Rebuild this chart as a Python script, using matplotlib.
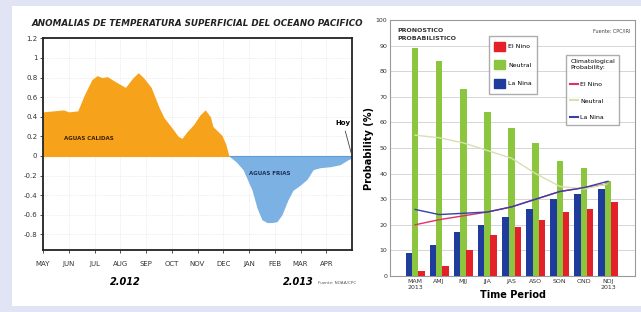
import numpy as np
import matplotlib
matplotlib.use("Agg")
from matplotlib import pyplot as plt
from matplotlib.patches import Rectangle, Patch
from matplotlib.lines import Line2D

plt.rcParams['font.family'] = ['Liberation Sans Narrow', 'DejaVu Sans']

# left chart: sea surface temperature anomaly (months since 1 May 2012)
months = [0.0, 0.4, 0.8, 1.0, 1.35, 1.6, 1.9, 2.1, 2.3, 2.5, 2.8, 3.2, 3.5, 3.7,
          3.9, 4.2, 4.5, 4.7, 5.0, 5.25, 5.4, 5.6, 5.85, 6.1, 6.3, 6.5, 6.6, 6.95,
          7.1, 7.22, 7.5, 7.77, 8.12, 8.31, 8.5, 8.7, 8.9, 9.09, 9.28, 9.51, 9.71,
          9.98, 10.25, 10.49, 10.76, 11.15, 11.53, 11.84, 12.0]
anomaly = [0.45, 0.46, 0.47, 0.45, 0.46, 0.62, 0.78, 0.82, 0.80, 0.81, 0.76, 0.70,
           0.80, 0.85, 0.80, 0.70, 0.50, 0.39, 0.29, 0.20, 0.18, 0.25, 0.32, 0.42,
           0.47, 0.40, 0.30, 0.21, 0.12, 0.0, -0.06, -0.14, -0.35, -0.53, -0.65,
           -0.68, -0.68, -0.67, -0.60, -0.45, -0.35, -0.30, -0.24, -0.14, -0.12,
           -0.11, -0.09, -0.04, -0.02]
month_labels = ["MAY", "JUN", "JUL", "AUG", "SEP", "OCT", "NOV", "DEC",
                "JAN", "FEB", "MAR", "APR"]

# right chart: ENSO probabilistic forecast
seasons = ["MAM\n2013", "AMJ", "MJJ", "JJA", "JAS", "ASO", "SON", "OND", "NDJ\n2013"]
la_nina = [9, 12, 17, 20, 23, 26, 30, 32, 34]
neutral = [89, 84, 73, 64, 58, 52, 45, 42, 37]
el_nino = [2, 4, 10, 16, 19, 22, 25, 26, 29]
clim_el_nino = [20, 22, 23.5, 25, 27, 30, 33, 34.5, 36]
clim_neutral = [55, 54, 52, 49, 46, 40, 35, 34, 36]
clim_la_nina = [26, 24, 24.5, 25, 27, 30, 33, 34.5, 37]

W, H = 641, 312
fig = plt.figure(figsize=(W / 100, H / 100), dpi=100, facecolor="#e1e4f4")
fig.patches.append(Rectangle((12 / W, 6 / H), 1 - 12 / W, 300 / H,
                             transform=fig.transFigure, facecolor="white",
                             edgecolor="none", zorder=-5))

# ---------------- left chart ----------------
ax = fig.add_axes([43 / W, (H - 250) / H, 309 / W, 211.6 / H])
x = np.array(months)
y = np.array(anomaly)
ax.fill_between(x, y, 0, where=y >= 0, interpolate=True, color="#f7a21b", lw=0)
ax.fill_between(x, y, 0, where=y <= 0, interpolate=True, color="#7cb1e3", lw=0)
ax.hlines(0, 0, 7.22, color="#f7a21b", lw=0.8)
ax.hlines(0, 7.22, 12, color="#5f9bd6", lw=0.8)
ax.set_xlim(0, 12)
ax.set_ylim(-0.96, 1.2)
ax.set_xticks(range(12))
ax.set_xticklabels(month_labels)
yt = [1.2, 1, 0.8, 0.6, 0.4, 0.2, 0, -0.2, -0.4, -0.6, -0.8]
ax.set_yticks(yt)
ax.set_yticklabels(["1.2", "1", "0.8", "0.6", "0.4", "0.2", "0",
                    "-0.2", "-0.4", "-0.6", "-0.8"])
ax.tick_params(labelsize=5, length=2, width=0.6, pad=2, colors="#333333")
ax.tick_params(axis="x", pad=6)
ax.grid(True, color="#dddddd", lw=0.5, ls=":")
ax.set_axisbelow(True)
for s in ax.spines.values():
    s.set_linewidth(1.3)
    s.set_color("#222222")

ax.text(1.8, 0.18, "AGUAS CALIDAS", fontsize=4, fontweight="bold",
        color="#3a2200", ha="center", va="center")
ax.text(8.8, -0.18, "AGUAS FRIAS", fontsize=4, fontweight="bold",
        color="#1c2f55", ha="center", va="center")
ax.annotate("Hoy", xy=(12, 0), xytext=(11.65, 0.34), fontsize=5,
            fontweight="bold", ha="center", va="center", annotation_clip=False,
            arrowprops=dict(arrowstyle="-", color="#444444", lw=0.6))

fig.text(197 / W, (H - 24) / H,
         "ANOMALIAS DE TEMPERATURA SUPERFICIAL DEL OCEANO PACIFICO",
         fontsize=6.3, fontweight="bold", fontstyle="italic", ha="center",
         va="center", color="#222222")
fig.text(125 / W, (H - 282) / H, "2.012", fontsize=7, fontweight="bold",
         fontstyle="italic", ha="center", va="center")
fig.text(298 / W, (H - 282) / H, "2.013", fontsize=7, fontweight="bold",
         fontstyle="italic", ha="center", va="center")
fig.text(337 / W, (H - 283) / H, "Fuente: NOAA/CPC", fontsize=3,
         ha="center", va="center", color="#555555")

# ---------------- right chart ----------------
bx = fig.add_axes([390 / W, (H - 276) / H, 245 / W, 256 / H])
pos = np.arange(len(seasons))
bw = 0.27
bx.bar(pos, neutral, bw, color="#8cc63f", zorder=2)
bx.bar(pos - 0.26, la_nina, bw, color="#1f3c9c", zorder=3)
bx.bar(pos + 0.26, el_nino, bw, color="#e42128", zorder=3)
bx.plot(pos, clim_el_nino, color="#e0306a", lw=1.0, zorder=4)
bx.plot(pos, clim_neutral, color="#d8dfb0", lw=1.0, zorder=4)
bx.plot(pos, clim_la_nina, color="#3640a8", lw=1.0, zorder=4)
bx.set_xlim(-1.04, 9.12)
bx.set_ylim(0, 100)
bx.set_yticks(range(0, 101, 10))
bx.set_xticks(pos)
bx.set_xticklabels(seasons)
bx.tick_params(labelsize=4.5, length=0, pad=2, colors="#333333")
bx.grid(axis="y", color="#cfcfcf", lw=0.6)
bx.set_axisbelow(True)
for s in bx.spines.values():
    s.set_color("#9a9a9a")
    s.set_linewidth(0.8)
bx.set_ylabel("Probability (%)", fontsize=7, fontweight="bold", labelpad=1)
bx.set_xlabel("Time Period", fontsize=7, fontweight="bold", labelpad=0)

bx.text(0.03, 0.97, "PRONOSTICO\nPROBABILISTICO", transform=bx.transAxes,
        fontsize=4.5, fontweight="bold", va="top", ha="left",
        linespacing=1.8, color="#333333")
bx.text(0.98, 0.965, "Fuente: CPC/IRI", transform=bx.transAxes,
        fontsize=3.5, va="top", ha="right", color="#444444")

leg1 = bx.legend(handles=[Patch(color="#e42128", label="El Nino"),
                          Patch(color="#8cc63f", label="Neutral"),
                          Patch(color="#1f3c9c", label="La Nina")],
                 loc="upper left", bbox_to_anchor=(0.39, 0.95), fontsize=4.5,
                 frameon=True, fancybox=False, edgecolor="#999999",
                 handlelength=1.7, handleheight=1.9, labelspacing=1.5,
                 borderpad=0.9, handletextpad=0.5)
bx.add_artist(leg1)
bx.legend(handles=[Line2D([], [], color="#e0306a", label="El Nino"),
                   Line2D([], [], color="#d8dfb0", label="Neutral"),
                   Line2D([], [], color="#3640a8", label="La Nina")],
          title="Climatological\nProbability:", title_fontsize=4.5,
          loc="upper left", bbox_to_anchor=(0.705, 0.875), fontsize=4.5,
          frameon=True, fancybox=False, edgecolor="#999999",
          handlelength=1.2, labelspacing=1.8, borderpad=0.7,
          handletextpad=0.4, alignment="left")

fig.savefig("out.png", dpi=100, facecolor=fig.get_facecolor())
